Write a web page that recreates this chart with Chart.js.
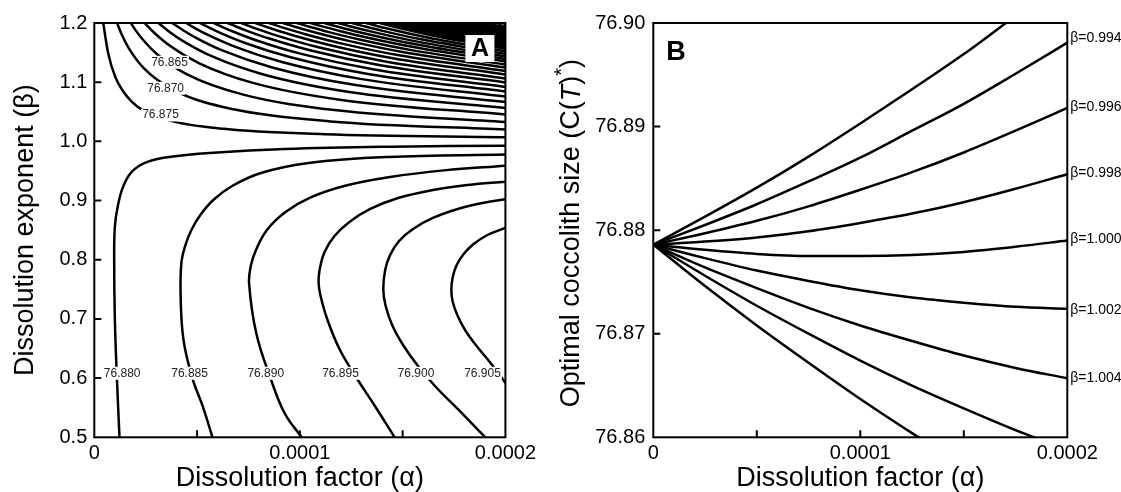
<!DOCTYPE html>
<html><head><meta charset="utf-8">
<script src="https://cdn.jsdelivr.net/npm/chart.js@4.4.1/dist/chart.umd.min.js"></script>
<style>
html,body{margin:0;padding:0;background:#fff;width:1121px;height:492px;overflow:hidden;}
#wa{position:absolute;left:0;top:0;width:540px;height:492px;}
#wb{position:absolute;left:540px;top:0;width:581px;height:492px;}
</style></head><body>
<div id="wa"><canvas id="ca"></canvas></div>
<div id="wb"><canvas id="cb"></canvas></div>
<script>
// ---------- Panel A data: contour lines, alpha in units of 1e-5, beta ----------
const u00 = [[0.435,1.2],[0.670,1.1496],[1.022,1.1086],[1.805,1.0675],[3.370,1.0384],[6.305,1.0213],[11.196,1.0122],[20,1.0069]];
const u01 = [[1.107,1.2],[1.334,1.1805],[1.674,1.1576],[2.430,1.1229],[3.941,1.0853],[6.775,1.0542],[11.498,1.0337],[20,1.0201]];
const u02 = [[1.779,1.2],[1.998,1.1884],[2.326,1.1734],[3.055,1.1473],[4.512,1.1132],[7.245,1.0790],[11.801,1.0525],[20,1.0327]];
const u03 = [[2.451,1.2],[2.662,1.1921],[2.977,1.1815],[3.679,1.1615],[5.083,1.1324],[7.716,1.0989],[12.103,1.0696],[20,1.0454]];
const u04 = [[3.123,1.2],[3.326,1.1941],[3.629,1.1858],[4.304,1.1698],[5.655,1.1447],[8.186,1.1134],[12.405,1.0833],[20,1.0564]];
const u05 = [[3.795,1.2],[3.989,1.1953],[4.281,1.1887],[4.929,1.1754],[6.226,1.1537],[8.657,1.1249],[12.708,1.0951],[20,1.0665]];
const u06 = [[4.467,1.2],[4.653,1.1962],[4.933,1.1906],[5.554,1.1794],[6.797,1.1606],[9.127,1.1341],[13.010,1.1052],[20,1.0758]];
const u07 = [[5.139,1.2],[5.317,1.1968],[5.585,1.1921],[6.179,1.1825],[7.368,1.1658],[9.597,1.1416],[13.313,1.1139],[20,1.0843]];
const u08 = [[5.811,1.2],[6.237,1.1932],[6.804,1.1848],[7.939,1.1700],[10.068,1.1478],[13.615,1.1214],[20,1.0919]];
const u09 = [[6.483,1.2],[6.889,1.1941],[7.429,1.1868],[8.511,1.1737],[10.538,1.1535],[13.917,1.1286],[20,1.0995]];
const u10 = [[7.155,1.2],[7.540,1.1948],[8.054,1.1884],[9.082,1.1766],[11.009,1.1581],[14.220,1.1346],[20,1.1062]];
const u11 = [[7.827,1.2],[8.192,1.1955],[8.679,1.1898],[9.653,1.1793],[11.479,1.1625],[14.522,1.1405],[20,1.1130]];
const u12 = [[8.499,1.2],[8.844,1.1960],[9.304,1.1909],[10.224,1.1814],[11.949,1.1660],[14.825,1.1454],[20,1.1189]];
const u13 = [[9.171,1.2],[9.496,1.1965],[9.929,1.1919],[10.795,1.1834],[12.420,1.1694],[15.127,1.1502],[20,1.1248]];
const u14 = [[9.843,1.2],[10.148,1.1968],[10.554,1.1927],[11.367,1.1850],[12.890,1.1721],[15.429,1.1542],[20,1.1299]];
const u15 = [[10.515,1.2],[10.800,1.1971],[11.179,1.1935],[11.938,1.1865],[13.361,1.1747],[15.732,1.1581],[20,1.1349]];
const u16 = [[11.187,1.2],[11.804,1.1941],[12.950,1.1839],[15.153,1.1671],[20,1.1392]];
const u17 = [[11.859,1.2],[12.429,1.1946],[13.487,1.1854],[15.522,1.1698],[20,1.1434]];
const u18 = [[12.531,1.2],[13.054,1.1952],[14.025,1.1867],[15.892,1.1725],[20,1.1476]];
const u19 = [[13.203,1.2],[13.679,1.1957],[14.562,1.1881],[16.262,1.1750],[20,1.1519]];
const u20 = [[13.875,1.2],[14.304,1.1961],[15.100,1.1893],[16.631,1.1775],[20,1.1561]];
const u21 = [[14.547,1.2],[14.929,1.1966],[15.638,1.1906],[17.001,1.1799],[20,1.1603]];
const u22 = [[15.219,1.2],[15.554,1.1970],[16.175,1.1917],[17.370,1.1823],[20,1.1645]];
const u23 = [[15.891,1.2],[16.179,1.1974],[16.713,1.1929],[17.740,1.1846],[20,1.1687]];
const u24 = [[16.563,1.2],[16.804,1.1978],[17.250,1.1939],[18.110,1.1869],[20,1.1730]];
const u25 = [[17.235,1.2],[17.429,1.1982],[17.788,1.1950],[18.479,1.1890],[20,1.1772]];
const u26 = [[17.907,1.2],[18.054,1.1986],[18.326,1.1960],[18.849,1.1912],[20,1.1814]];
const u27 = [[18.579,1.2],[18.678,1.1989],[18.863,1.1970],[19.218,1.1933],[20,1.1856]];
const u28 = [[19.251,1.2],[19.6,1.1951],[20,1.1899]];
const u29 = [[19.923,1.2],[20,1.1941]];
// densely packed contours in the dark top-right corner
const v20 = [[14.211,1.2],[14.617,1.1964],[15.369,1.1900],[16.816,1.1787],[20,1.1582]];
const v21 = [[14.883,1.2],[15.242,1.1968],[15.907,1.1912],[17.186,1.1811],[20,1.1624]];
const v22 = [[15.555,1.2],[15.867,1.1972],[16.444,1.1923],[17.555,1.1835],[20,1.1666]];
const v23 = [[16.227,1.2],[16.492,1.1976],[16.982,1.1934],[17.925,1.1858],[20,1.1709]];
const v24 = [[16.899,1.2],[17.117,1.1980],[17.519,1.1945],[18.295,1.1880],[20,1.1751]];
const v25 = [[17.571,1.2],[17.742,1.1984],[18.057,1.1955],[18.664,1.1901],[20,1.1793]];
const v26 = [[18.243,1.2],[18.366,1.1988],[18.595,1.1965],[19.034,1.1923],[20,1.1835]];
const v27 = [[18.915,1.2],[19.2,1.1965],[20,1.1878]];
const v28 = [[19.587,1.2],[20,1.1920]];

const l880 = [[1.226,0.5],[1.10,0.6],[1.0,0.7],[0.967,0.8],[1.0,0.856],[1.14,0.89],[1.40,0.9234],[1.83,0.9488],[2.52,0.9646],[3.73,0.9741],[5.80,0.9809],[9.26,0.987],[14.44,0.991],[20,0.9928]];
const l885 = [[5.75,0.5],[5.28,0.5518],[4.77,0.6],[4.34,0.6644],[4.20,0.7376],[4.24,0.7962],[4.433,0.8249],[4.723,0.8503],[5.158,0.8756],[5.787,0.9010],[6.705,0.9246],[8.107,0.9466],[10.428,0.9635],[14.296,0.9736],[20,0.9778]];
const l890 = [[10.09,0.5],[9.26,0.5406],[8.57,0.6],[7.88,0.6757],[7.53,0.7602],[7.624,0.7911],[7.866,0.8165],[8.398,0.8503],[9.301,0.8807],[10.500,0.9050],[12.202,0.9250],[14.392,0.9398],[17.003,0.9510],[20,0.9589]];
const l895 = [[14.61,0.5],[13.619,0.5546],[12.700,0.6036],[11.927,0.6492],[11.346,0.6982],[11.008,0.7388],[10.911,0.7607],[10.960,0.7827],[11.202,0.8131],[11.685,0.8401],[12.410,0.8638],[13.425,0.8858],[14.779,0.9043],[16.471,0.9179],[18.163,0.9263],[20,0.9319]];
const l900 = [[19.02,0.5],[17.728,0.5462],[16.616,0.5850],[15.746,0.6205],[15.021,0.6560],[14.489,0.6898],[14.175,0.7219],[14.06,0.749],[14.150,0.7827],[14.392,0.8080],[14.827,0.8317],[15.504,0.8520],[16.471,0.8706],[17.680,0.8858],[18.888,0.8959],[20,0.9021]];
const l905 = [[20,0.5918],[19.275,0.6256],[18.598,0.6543],[18.066,0.6796],[17.680,0.7050],[17.438,0.7286],[17.370,0.7489],[17.438,0.7709],[17.631,0.7911],[17.970,0.8097],[18.453,0.8266],[19.130,0.8418],[20,0.8537]];

const contourLabelText = ['76.865','76.870','76.875','76.880','76.885','76.890','76.895','76.900','76.905'];
const contourLabelAlpha = [3.66,3.47,3.22,1.356,4.637,8.342,11.977,15.648,18.886];
const contourLabelBeta  = [1.1336,1.0897,1.0446,0.6082,0.6082,0.6082,0.6082,0.6082,0.6082];

const aXTickLabels = ['0','0.0001','0.0002'];
const aXMinor = [0.00005,0.0001,0.00015];
const aYInner = [0.6,0.7,0.8,0.9,1.0,1.1];

// ---------- Panel B data ----------
const alphaB = [0,0.000025,0.00005,0.000075,0.0001,0.000125,0.00015,0.000175,0.0002];
const b0992 = [76.8786,76.8813,76.8841,76.8871,76.8903,76.8936,76.8970,76.9007];
const b0994 = [76.8786,76.8805,76.8825,76.8847,76.8870,76.8896,76.8922,76.8951,76.8981];
const b0996 = [76.8786,76.8797,76.8809,76.8823,76.8839,76.8856,76.8875,76.8896,76.8918];
const b0998 = [76.8786,76.8789,76.8793,76.8799,76.8807,76.8816,76.8827,76.8840,76.8854];
const b1000 = [76.8786,76.8781,76.8777,76.8775,76.8775,76.8776,76.8779,76.8784,76.8790];
const b1002 = [76.8786,76.8773,76.8761,76.8751,76.8742,76.8735,76.8730,76.8726,76.8724];
const b1004 = [76.8786,76.8764,76.8744,76.8725,76.8708,76.8693,76.8679,76.8667,76.8657];
const b1006 = [76.8786,76.8756,76.8727,76.8700,76.8674,76.8650,76.8628,76.8607,76.8588];
const b1008 = [76.8786,76.8746,76.8708,76.8672,76.8637,76.8604,76.8572];

const bLabelText = ['β=0.994','β=0.996','β=0.998','β=1.000','β=1.002','β=1.004'];
const bLabelValue = [76.8985,76.8919,76.8855,76.8791,76.8723,76.8657];
const bXTickLabels = ['0','0.0001','0.0002'];
const bYInner = [76.87,76.88,76.89];

// ---------- helpers ----------
const FONT = "'Liberation Sans', Arial, Helvetica, sans-serif";
Chart.defaults.font.family = FONT;
Chart.defaults.color = '#000';
const upperFamily = [u00,u01,u02,u03,u04,u05,u06,u07,u08,u09,u10,u11,u12,u13,u14,u15,u16,u17,u18,u19,u20,u21,u22,u23,u24,u25,u26,u27,u28,u29,
                     v20,v21,v22,v23,v24,v25,v26,v27,v28];
const lowerFamily = [l880,l885,l890,l895,l900,l905];
const toPts = arr => arr.map(p => ({x: p[0]*1e-5, y: p[1]}));

const dsA = [];
upperFamily.forEach(c => dsA.push({data: toPts(c), showLine: true, borderColor: '#000', borderWidth: 2.5,
  pointRadius: 0, cubicInterpolationMode: 'monotone', fill: false, clip: 0}));
lowerFamily.forEach(c => dsA.push({data: toPts(c), showLine: true, borderColor: '#000', borderWidth: 2.5,
  pointRadius: 0, tension: 0.4, fill: false, clip: 0}));

function drawFrame(chart, xTicks, yTicks) {
  const {ctx, chartArea: a, scales} = chart;
  ctx.save();
  ctx.strokeStyle = '#000'; ctx.lineWidth = 2;
  ctx.beginPath();
  xTicks.forEach(v => { const p = scales.x.getPixelForValue(v); ctx.moveTo(p, a.bottom); ctx.lineTo(p, a.bottom - 7); });
  yTicks.forEach(v => { const p = scales.y.getPixelForValue(v); ctx.moveTo(a.left, p); ctx.lineTo(a.left + 7, p); });
  ctx.stroke();
  ctx.strokeRect(a.left, a.top, a.right - a.left, a.bottom - a.top);
  ctx.restore();
}

const plugA = {
  id: 'plugA',
  afterDraw(chart) {
    const {ctx, chartArea: a, scales} = chart;
    ctx.save();
    ctx.font = '12px ' + FONT;
    ctx.textAlign = 'center'; ctx.textBaseline = 'middle';
    contourLabelText.forEach((t, i) => {
      const px = scales.x.getPixelForValue(contourLabelAlpha[i]*1e-5);
      const py = scales.y.getPixelForValue(contourLabelBeta[i]);
      const w = ctx.measureText(t).width + 2;
      ctx.fillStyle = '#fff';
      ctx.fillRect(px - w/2, py - 6.5, w, 13);
      ctx.fillStyle = '#222';
      ctx.fillText(t, px, py);
    });
    ctx.restore();
    drawFrame(chart, aXMinor, aYInner);
    ctx.save();
    ctx.fillStyle = '#fff';
    ctx.fillRect(a.right - 40, a.top + 12, 29, 27);
    ctx.fillStyle = '#000';
    ctx.font = 'bold 25px ' + FONT;
    ctx.textAlign = 'center'; ctx.textBaseline = 'middle';
    ctx.fillText('A', a.right - 25.5, a.top + 26);
    ctx.restore();
  }
};

new Chart(document.getElementById('ca'), {
  type: 'scatter',
  data: {datasets: dsA},
  options: {
    responsive: true, maintainAspectRatio: false, animation: false, devicePixelRatio: 1,
    layout: {padding: {top: 23, right: 32, bottom: 0, left: 0}},
    plugins: {legend: {display: false}, tooltip: {enabled: false}},
    events: [],
    scales: {
      x: {type: 'linear', min: 0, max: 0.0002,
        afterFit: s => { s.height = 54.7; },
        grid: {display: false, drawTicks: false}, border: {display: false},
        ticks: {stepSize: 0.0001, padding: 4, font: {size: 20}, maxRotation: 0, autoSkip: false,
          callback: (v, i) => aXTickLabels[i]},
        title: {display: true, text: 'Dissolution factor (α)', font: {size: 27, lineHeight: 1}, padding: {top: 0, bottom: 0}}},
      y: {type: 'linear', min: 0.5, max: 1.2,
        afterFit: s => { s.width = 94.3; },
        grid: {display: false, drawTicks: false}, border: {display: false},
        ticks: {stepSize: 0.1, padding: 7, font: {size: 20}, callback: v => v.toFixed(1)},
        title: {display: true, text: 'Dissolution exponent (β)', font: {size: 27, lineHeight: 1}, padding: {top: 12, bottom: 0}}}
    }
  },
  plugins: [plugA]
});

// ---------- Panel B ----------
const bSeries = [b0992,b0994,b0996,b0998,b1000,b1002,b1004,b1006,b1008];
const dsB = bSeries.map(s => ({data: s.map((v, i) => ({x: alphaB[i], y: v})), showLine: true, borderColor: '#000',
  borderWidth: 2.5, pointRadius: 0, cubicInterpolationMode: 'monotone', fill: false, clip: 0}));

const plugB = {
  id: 'plugB',
  afterDraw(chart) {
    const {ctx, chartArea: a, scales} = chart;
    drawFrame(chart, aXMinor, bYInner);
    ctx.save();
    ctx.fillStyle = '#000';
    ctx.font = '14px ' + FONT;
    ctx.textAlign = 'left'; ctx.textBaseline = 'middle';
    bLabelText.forEach((t, i) => ctx.fillText(t, a.right + 3, scales.y.getPixelForValue(bLabelValue[i])));
    ctx.font = 'bold 27px ' + FONT;
    ctx.textAlign = 'left'; ctx.textBaseline = 'alphabetic';
    ctx.fillText('B', a.left + 13, a.top + 37);
    const segs = [['Optimal coccolith size (', '', 27, 0], ['C', '', 27, 0], ['(', '', 27, 0], ['T', 'italic ', 27, 0],
                  [')', '', 27, 0], ['*', '', 20, -10], [')', '', 27, 0]];
    let total = 0;
    segs.forEach(s => { ctx.font = s[1] + s[2] + 'px ' + FONT; total += ctx.measureText(s[0]).width; });
    ctx.translate(32, (a.top + a.bottom) / 2 + 3);
    ctx.rotate(-Math.PI / 2);
    let x = -total / 2;
    ctx.textBaseline = 'middle';
    segs.forEach(s => { ctx.font = s[1] + s[2] + 'px ' + FONT; ctx.fillText(s[0], x, s[3]); x += ctx.measureText(s[0]).width; });
    ctx.restore();
  }
};

new Chart(document.getElementById('cb'), {
  type: 'scatter',
  data: {datasets: dsB},
  options: {
    responsive: true, maintainAspectRatio: false, animation: false, devicePixelRatio: 1,
    layout: {padding: {top: 23, right: 53.7, bottom: 0, left: 0}},
    plugins: {legend: {display: false}, tooltip: {enabled: false}},
    events: [],
    scales: {
      x: {type: 'linear', min: 0, max: 0.0002,
        afterFit: s => { s.height = 54.7; },
        grid: {display: false, drawTicks: false}, border: {display: false},
        ticks: {stepSize: 0.0001, padding: 4, font: {size: 20}, maxRotation: 0, autoSkip: false,
          callback: (v, i) => bXTickLabels[i]},
        title: {display: true, text: 'Dissolution factor (α)', font: {size: 27, lineHeight: 1}, padding: {top: 0, bottom: 0}}},
      y: {type: 'linear', min: 76.86, max: 76.90,
        afterFit: s => { s.width = 113.3; },
        grid: {display: false, drawTicks: false}, border: {display: false},
        ticks: {stepSize: 0.01, padding: 8, font: {size: 20}, callback: v => v.toFixed(2)}}
    }
  },
  plugins: [plugB]
});
</script>
</body></html>
